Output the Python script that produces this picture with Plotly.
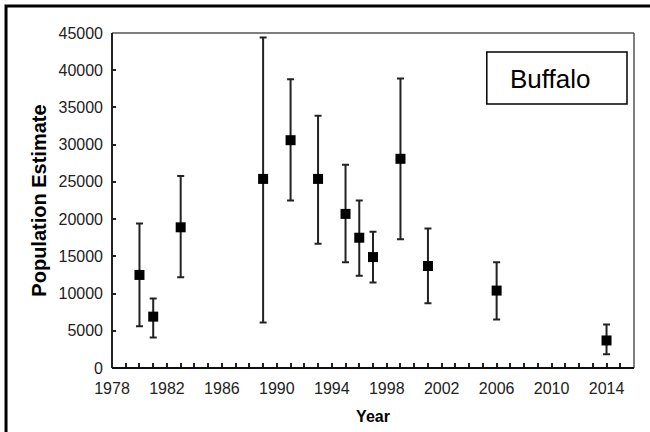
import plotly.graph_objects as go

years = [1980, 1981, 1983, 1989, 1991, 1993, 1995, 1996, 1997, 1999, 2001, 2006, 2014]
estimate = [12500, 6900, 18900, 25400, 30600, 25400, 20700, 17500, 14900, 28100, 13700, 10400, 3700]
upper = [19400, 9350, 25800, 44400, 38800, 33900, 27300, 22500, 18300, 38900, 18750, 14200, 5850]
lower = [5600, 4100, 12200, 6100, 22500, 16700, 14200, 12400, 11500, 17300, 8700, 6500, 1850]

x_labels = ["1978", "1982", "1986", "1990", "1994", "1998", "2002", "2006", "2010", "2014"]
x_label_vals = [int(v) for v in x_labels]

err_plus = [u - e for u, e in zip(upper, estimate)]
err_minus = [e - l for e, l in zip(estimate, lower)]

FONT = "Liberation Sans, Arial, sans-serif"

fig = go.Figure()
fig.add_trace(go.Scatter(
    x=years, y=estimate, mode="markers",
    marker=dict(symbol="square", size=10, color="black"),
    error_y=dict(type="data", array=err_plus, arrayminus=err_minus,
                 color="#222222", thickness=2, width=3.5),
    showlegend=False,
))

fig.update_layout(
    width=650, height=432,
    margin=dict(l=112, r=16, t=33, b=64),
    paper_bgcolor="white", plot_bgcolor="white",
    font=dict(family=FONT, color="black"),
    xaxis=dict(
        range=[1978, 2016], tickvals=x_label_vals, ticktext=x_labels,
        ticks="inside", ticklen=5, tickwidth=1.5, tickcolor="#222",
        minor=dict(tickvals=list(range(1978, 2017)), ticks="inside", ticklen=5,
                   tickwidth=1.5, tickcolor="#222"),
        showline=False, showgrid=False, zeroline=False, automargin=False,
        tickfont=dict(size=16, family=FONT, color="#222"),
        ticklabelstandoff=9,
        title=dict(text="<b>Year</b>", font=dict(size=16, family=FONT), standoff=14),
    ),
    yaxis=dict(
        range=[0, 45000], dtick=5000, tickformat="d",
        ticks="inside", ticklen=4, tickwidth=1.5, tickcolor="#222",
        showline=False, showgrid=False, zeroline=False, automargin=False,
        tickfont=dict(size=16, family=FONT, color="#222"),
        ticklabelstandoff=8,
        title=dict(text="<b>Population Estimate</b>", font=dict(size=20, family=FONT), standoff=6),
    ),
)

# plot-area frame: left and bottom dark, top and right lighter
fig.add_shape(type="line", xref="paper", yref="paper", x0=0, x1=1, y0=1, y1=1,
              line=dict(color="#555555", width=1.5), layer="above")
fig.add_shape(type="line", xref="paper", yref="paper", x0=1, x1=1, y0=0, y1=1,
              line=dict(color="#555555", width=1.5), layer="above")
fig.add_shape(type="line", xref="paper", yref="paper", x0=0, x1=0, y0=0, y1=1,
              line=dict(color="#222222", width=2), layer="above")
fig.add_shape(type="line", xref="paper", yref="paper", x0=0, x1=1, y0=0, y1=0,
              line=dict(color="#111111", width=2), layer="above")

# outer frame of the picture (top and left edges visible)
fig.add_shape(type="rect", xref="paper", yref="paper",
              x0=-0.203, x1=1.5, y0=-0.5, y1=1.0806,
              line=dict(color="black", width=3), layer="above")

# label box
fig.add_shape(type="rect", xref="paper", yref="paper",
              x0=0.718, x1=0.9866, y0=0.788, y1=0.943,
              line=dict(color="black", width=1.5), fillcolor="white")
fig.add_annotation(xref="paper", yref="paper", x=0.7586, y=0.8627,
                   xanchor="left", yanchor="middle", showarrow=False,
                   text="Buffalo", font=dict(size=26, family=FONT, color="black"))

fig.write_html("out.html", config={"displayModeBar": False},
               post_script="document.body.style.margin='0';")
